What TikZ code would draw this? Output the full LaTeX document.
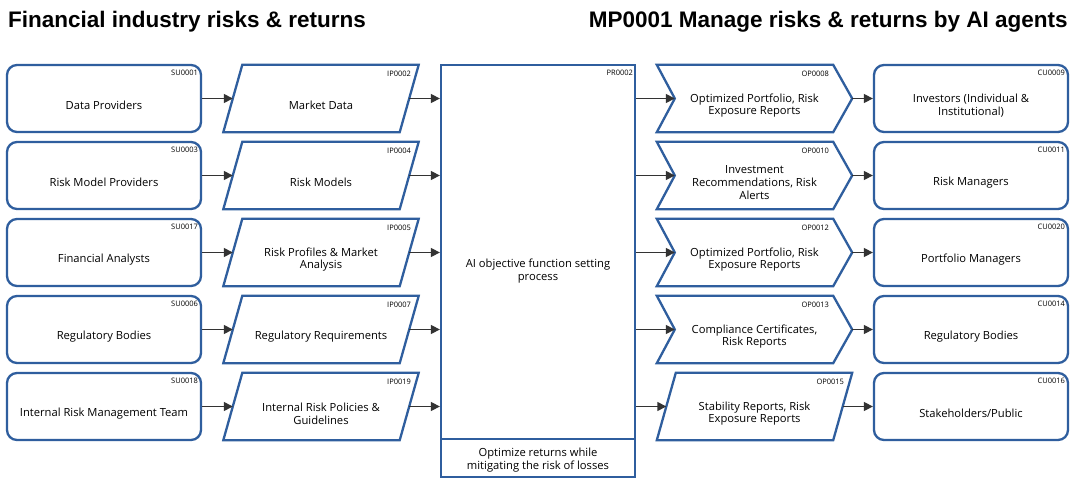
\documentclass[tikz,border=0pt]{standalone}
\usepackage{fontspec}
\setmainfont{Open Sans}
\newfontfamily\titlefont{Liberation Sans}
\usetikzlibrary{arrows.meta}
\definecolor{bord}{HTML}{2F5E9E}
\definecolor{arr}{HTML}{333333}
\begin{document}
\begin{tikzpicture}[x=1pt,y=-1pt,
  outl/.style={draw=bord, line width=2.3pt},
  rbox/.style={outl, rounded corners=10pt, minimum width=194pt, minimum height=67pt, inner sep=0pt},
  pbox/.style={minimum width=176pt, minimum height=67pt, inner sep=0pt},
  cbox/.style={minimum width=195pt, minimum height=67pt, inner sep=0pt},
  txt/.style={align=center, inner sep=0pt, font=\fontsize{11.2}{12.8}\selectfont},
  idl/.style={anchor=north east, inner sep=0pt, font=\fontsize{7.5}{8}\selectfont},
  conn/.style={draw=arr, line width=1.4pt, -{Triangle[length=9pt,width=9pt]}},
  ttl/.style={inner sep=0pt, font=\titlefont\bfseries\fontsize{22.5}{26}\selectfont}
]
\useasboundingbox (0,0) rectangle (1076,487);
\fill[white] (0,0) rectangle (1076,487);

\node[ttl, anchor=base west] (t1) at (8,28) {Financial industry risks \& returns};
\node[ttl, anchor=base east] (t2) at (1068,28) {MP0001 Manage risks \& returns by AI agents};

% process
\node[outl, minimum width=194pt, minimum height=412pt, inner sep=0pt] (pr) at (538,271) {};
\coordinate (prdl) at (441,439);
\coordinate (prdr) at (635,439);
\draw[outl] (prdl) -- (prdr);
\node[txt] (prt) at (538,271) {AI objective function setting\\process};
\node[txt] (prb) at (538,460) {Optimize returns while\\mitigating the risk of losses};
\node[idl] (prid) at ([xshift=-3pt,yshift=-6pt]pr.north east) {PR0002};

\foreach \i/\y/\su/\sut/\ip/\ipt/\cu/\cut in {
  1/98.5/SU0001/{Data Providers}/IP0002/{Market Data}/CU0009/{Investors (Individual \&\\Institutional)},
  2/175.5/SU0003/{Risk Model Providers}/IP0004/{Risk Models}/CU0011/{Risk Managers},
  3/252.5/SU0017/{Financial Analysts}/IP0005/{Risk Profiles \& Market\\Analysis}/CU0020/{Portfolio Managers},
  4/329.5/SU0006/{Regulatory Bodies}/IP0007/{Regulatory Requirements}/CU0014/{Regulatory Bodies},
  5/406.5/SU0018/{Internal Risk Management Team}/IP0019/{Internal Risk Policies \&\\Guidelines}/CU0016/{Stakeholders/Public}} {
  % supplier
  \node[rbox] (su\i) at (104,\y) {};
  \node[txt] (su\i t) at ([yshift=-7pt]su\i.center) {\sut};
  \node[idl] (su\i id) at ([xshift=-4pt,yshift=-6pt]su\i.north east) {\su};
  % input parallelogram
  \node[pbox] (ip\i) at (321,\y) {};
  \draw[outl] ([xshift=9.5pt]ip\i.north west) -- ([xshift=9.5pt]ip\i.north east)
     -- ([xshift=-9.5pt]ip\i.south east) -- ([xshift=-9.5pt]ip\i.south west) -- cycle;
  \node[txt] (ip\i t) at ([yshift=-7pt]ip\i.center) {\ipt};
  \node[idl] (ip\i id) at ([xshift=2pt,yshift=-6pt]ip\i.north east) {\ip};
  % customer
  \node[rbox] (cu\i) at (971,\y) {};
  \node[txt] (cu\i t) at ([yshift=-7pt]cu\i.center) {\cut};
  \node[idl] (cu\i id) at ([xshift=-4pt,yshift=-6pt]cu\i.north east) {\cu};
  % connectors
  \draw[conn] (su\i.east) -- (ip\i.west);
  \draw[conn] (ip\i.east) -- (ip\i.east -| pr.west);
}

% outputs: chevrons
\foreach \i/\y/\op/\opt in {
  1/98.5/OP0008/{Optimized Portfolio, Risk\\Exposure Reports},
  2/175.5/OP0010/{Investment\\Recommendations, Risk\\Alerts},
  3/252.5/OP0012/{Optimized Portfolio, Risk\\Exposure Reports},
  4/329.5/OP0013/{Compliance Certificates,\\Risk Reports}} {
  \node[cbox] (op\i) at (754.5,\y) {};
  \draw[outl] (op\i.north west) -- ([xshift=-19pt]op\i.north east) -- (op\i.east)
    -- ([xshift=-19pt]op\i.south east) -- (op\i.south west) -- ([xshift=18pt]op\i.west) -- cycle;
  \node[txt] (op\i t) at ([yshift=-7pt]op\i.center) {\opt};
  \node[idl] (op\i id) at ([xshift=-23pt,yshift=-6pt]op\i.north east) {\op};
  \draw[conn] (op\i.west -| pr.east) -- ([xshift=18pt]op\i.west);
  \draw[conn] (op\i.east) -- (cu\i.west);
}

% output 5: parallelogram
\node[pbox] (op5) at (754.5,406.5) {};
\draw[outl] ([xshift=9.5pt]op5.north west) -- ([xshift=9.5pt]op5.north east)
   -- ([xshift=-9.5pt]op5.south east) -- ([xshift=-9.5pt]op5.south west) -- cycle;
\node[txt] (op5t) at ([yshift=-7pt]op5.center) {Stability Reports, Risk\\Exposure Reports};
\node[idl] (op5id) at ([xshift=1.5pt,yshift=-6pt]op5.north east) {OP0015};
\draw[conn] (op5.west -| pr.east) -- (op5.west);
\draw[conn] (op5.east) -- (cu5.west);
\end{tikzpicture}
\end{document}
